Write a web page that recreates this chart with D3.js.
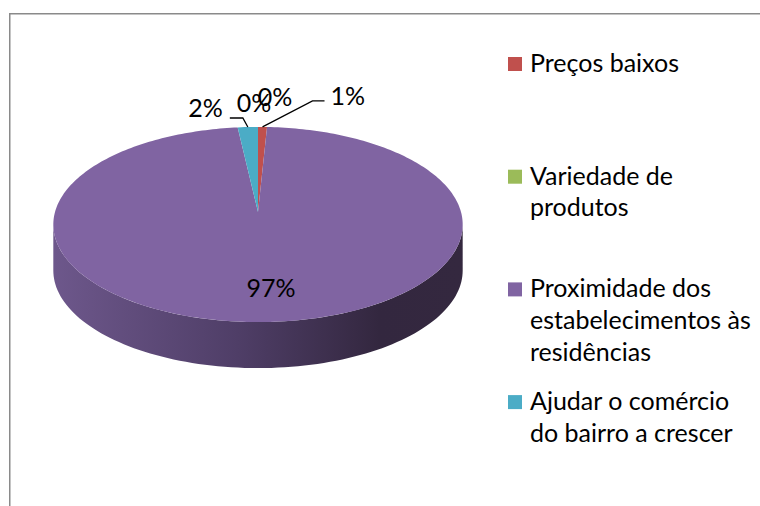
<!DOCTYPE html>
<html>
<head>
<meta charset="utf-8">
<script src="https://cdn.jsdelivr.net/npm/d3@7"></script>
<style>
  body { margin: 0; background: #fff; }
  text { font-family: Lato, "Open Sans", sans-serif; fill: #000; }
</style>
</head>
<body>
<div id="chart-area"></div>
<script>
let width = 760,
height = 506;

// data
const categories = ['Preços baixos', 'Variedade de produtos', 'Proximidade dos estabelecimentos às residências', 'Ajudar o comércio do bairro a crescer', '']
const values = [0.8, 0, 97.4, 1.8, 0]
const colors = ['#C0504D', '#9BBB59', '#8064A2', '#4BACC6', '#F79646']
const legendLines = [['Preços baixos'], ['Variedade de', 'produtos'], ['Proximidade dos', 'estabelecimentos às', 'residências'], ['Ajudar o comércio', 'do bairro a crescer']]

// pie geometry (3d look with a bit of perspective)
const cx = 258, cy = 212, rx = 203, ry = 96, k = 0.128, depth = 46
const fontSize = 25

let svg = d3.select('#chart-area').append('svg')
  .attr('width', width)
  .attr('height', height)

// chart frame (cut off at right and bottom)
svg.append('rect')
  .attr('x', 9.75).attr('y', 13.75)
  .attr('width', 900).attr('height', 700)
  .attr('fill', 'none')
  .attr('stroke', '#8a8a8a')
  .attr('stroke-width', 1.5)

function proj(a, r = 1) {
  let z = Math.cos(a) * r
  let s = 1 / (1 + k * z)
  return [cx + rx * r * Math.sin(a) * s, cy - ry * z * s]
}

let total = d3.sum(values)
let pie = d3.pie().sort(null).value(d => d)
let arcs = pie(values)
let line = d3.line()

// side wall, front half between the two tangent points
let a0 = Math.PI - Math.acos(k), a1 = Math.PI + Math.acos(k)
let steps = d3.range(0, 101).map(i => a0 + (a1 - a0) * i / 100)
let topEdge = steps.map(a => proj(a))
let botEdge = steps.map(a => { let p = proj(a); return [p[0], p[1] + depth] }).reverse()

let grad = svg.append('defs').append('linearGradient')
  .attr('id', 'wall')
  .attr('gradientUnits', 'userSpaceOnUse')
  .attr('x1', cx - rx).attr('x2', cx + rx)
  .attr('y1', 0).attr('y2', 0)
grad.selectAll('stop')
  .data([[0, '#6d578b'], [0.45, '#4f3e67'], [0.8, '#33273f'], [1, '#34283f']])
  .enter().append('stop')
  .attr('offset', d => d[0])
  .attr('stop-color', d => d[1])

svg.append('path')
  .attr('d', line(topEdge.concat(botEdge)) + 'Z')
  .attr('fill', 'url(#wall)')

// top face slices
svg.selectAll('.slice')
  .data(arcs)
  .enter().append('path')
  .attr('class', 'slice')
  .attr('d', d => {
    let n = Math.max(2, Math.ceil((d.endAngle - d.startAngle) / 0.02))
    let pts = d3.range(0, n + 1).map(i => proj(d.startAngle + (d.endAngle - d.startAngle) * i / n))
    return line([[cx, cy]].concat(pts)) + 'Z'
  })
  .attr('fill', (d, i) => colors[i])

// data labels: offsets from the slice's rim point
const labelPos = [
  { dx: 68, dy: -32, anchor: 'start', leader: [[50, -26], [62, -26]] },
  { dx: 8, dy: -31, anchor: 'middle' },
  { inside: 0.72, dx: 8, dy: -1, anchor: 'middle' },
  { dx: -25, dy: -20, anchor: 'end', leader: [[-5, -9], [-18, -9]] },
  { dx: -4, dy: -25, anchor: 'middle' }
]

arcs.forEach((d, i) => {
  let lp = labelPos[i]
  let mid = (d.startAngle + d.endAngle) / 2
  let p = proj(mid, lp.inside || 1)
  let label = Math.round(d.value / total * 100) + '%'
  if (lp.leader) {
    svg.append('path')
      .attr('d', line([p].concat(lp.leader.map(o => [p[0] + o[0], p[1] + o[1]]))))
      .attr('fill', 'none')
      .attr('stroke', '#000')
      .attr('stroke-width', 1.3)
  }
  svg.append('text')
    .attr('x', p[0] + lp.dx)
    .attr('y', p[1] + lp.dy)
    .attr('text-anchor', lp.anchor)
    .attr('dominant-baseline', 'central')
    .style('font-size', fontSize + 'px')
    .text(label)
})

// legend
let legend = svg.selectAll('.legend')
  .data(legendLines)
  .enter().append('g')
  .attr('class', 'legend')
  .attr('transform', (d, i) => 'translate(508,' + (64 + i * 112.7) + ')')

legend.append('rect')
  .attr('x', 0).attr('y', -7)
  .attr('width', 14).attr('height', 14)
  .attr('fill', (d, i) => colors[i])

legend.selectAll('text')
  .data(d => d)
  .enter().append('text')
  .attr('x', 22)
  .attr('y', (d, j) => j * 31.7 - 2)
  .attr('dominant-baseline', 'central')
  .style('font-size', fontSize + 'px')
  .text(d => d)
</script>
</body>
</html>
